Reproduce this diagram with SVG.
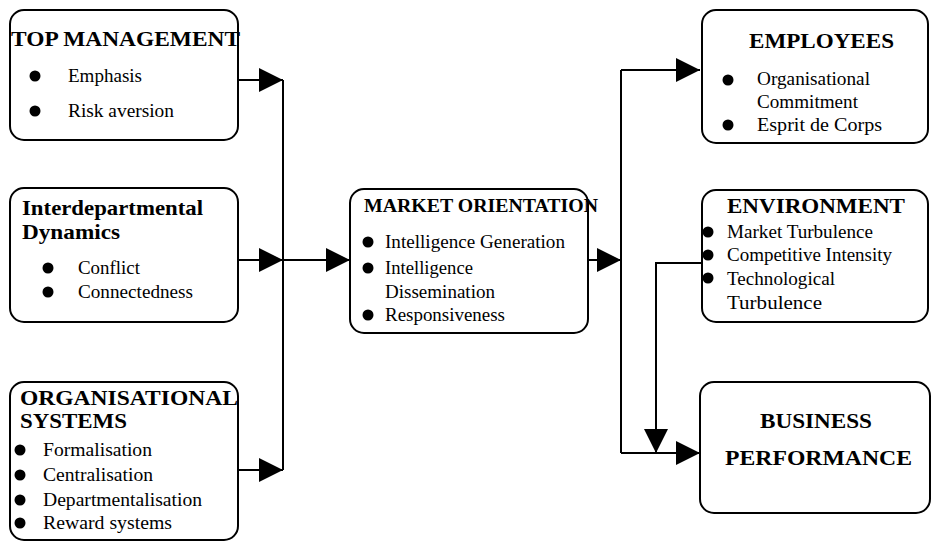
<svg xmlns="http://www.w3.org/2000/svg" width="935" height="548" viewBox="0 0 935 548">
<style>
.box{fill:#fff;stroke:#000;stroke-width:2}
.t{font-family:"Liberation Serif","Times New Roman",serif;font-weight:bold;fill:#000}
.b{font-family:"Liberation Serif","Times New Roman",serif;font-size:18px;fill:#000}
.c{stroke:#000;stroke-width:2;fill:none}
.dot{fill:#000}
</style>
<defs>
<marker id="ah" markerWidth="24" markerHeight="24" refX="24" refY="12" orient="auto" markerUnits="userSpaceOnUse"><path d="M0,0 L24,12 L0,24 Z" fill="#000"/></marker>
</defs>
<rect width="935" height="548" fill="#fff"/>
<g id="connectors">
<path class="c" d="M283,80 V470"/>
<path class="c" d="M238,80 H283" marker-end="url(#ah)"/>
<path class="c" d="M238,260 H283" marker-end="url(#ah)"/>
<path class="c" d="M283,260 H350" marker-end="url(#ah)"/>
<path class="c" d="M238,470 H283" marker-end="url(#ah)"/>
<path class="c" d="M588,260 H621" marker-end="url(#ah)"/>
<path class="c" d="M621,70 V453"/>
<path class="c" d="M621,70 H700" marker-end="url(#ah)"/>
<path class="c" d="M621,453 H700" marker-end="url(#ah)"/>
<path class="c" d="M702,263 H656 V453" marker-end="url(#ah)"/>
</g>
<g id="top-management">
<rect class="box" x="10" y="10" width="228" height="130" rx="14"/>
<text class="t" x="11" y="46" font-size="20" textLength="229" lengthAdjust="spacingAndGlyphs">TOP MANAGEMENT</text>
<circle class="dot" cx="35" cy="76" r="5.5"/><text class="b" x="68" y="82" textLength="74" lengthAdjust="spacingAndGlyphs">Emphasis</text>
<circle class="dot" cx="35" cy="111" r="5.5"/><text class="b" x="68" y="117" textLength="106" lengthAdjust="spacingAndGlyphs">Risk aversion</text>
</g>
<g id="interdepartmental-dynamics">
<rect class="box" x="10" y="188" width="228" height="134" rx="14"/>
<text class="t" x="22" y="215" font-size="22" textLength="181" lengthAdjust="spacingAndGlyphs">Interdepartmental</text>
<text class="t" x="22" y="239" font-size="22" textLength="98" lengthAdjust="spacingAndGlyphs">Dynamics</text>
<circle class="dot" cx="48" cy="268" r="5.5"/><text class="b" x="78" y="274" textLength="62" lengthAdjust="spacingAndGlyphs">Conflict</text>
<circle class="dot" cx="48" cy="292" r="5.5"/><text class="b" x="78" y="298" textLength="115" lengthAdjust="spacingAndGlyphs">Connectedness</text>
</g>
<g id="organisational-systems">
<rect class="box" x="10" y="382" width="228" height="158" rx="14"/>
<text class="t" x="20" y="405" font-size="21" textLength="218" lengthAdjust="spacingAndGlyphs">ORGANISATIONAL</text>
<text class="t" x="20" y="428" font-size="21" textLength="107" lengthAdjust="spacingAndGlyphs">SYSTEMS</text>
<circle class="dot" cx="20" cy="450" r="5.5"/><text class="b" x="43" y="456" textLength="109" lengthAdjust="spacingAndGlyphs">Formalisation</text>
<circle class="dot" cx="20" cy="475" r="5.5"/><text class="b" x="43" y="481" textLength="110" lengthAdjust="spacingAndGlyphs">Centralisation</text>
<circle class="dot" cx="20" cy="500" r="5.5"/><text class="b" x="43" y="506" textLength="159" lengthAdjust="spacingAndGlyphs">Departmentalisation</text>
<circle class="dot" cx="20" cy="523" r="5.5"/><text class="b" x="43" y="529" textLength="129" lengthAdjust="spacingAndGlyphs">Reward systems</text>
</g>
<g id="market-orientation">
<rect class="box" x="350" y="189" width="238" height="144" rx="14"/>
<text class="t" x="364" y="212" font-size="19" textLength="234" lengthAdjust="spacingAndGlyphs">MARKET ORIENTATION</text>
<circle class="dot" cx="368" cy="242" r="5.5"/><text class="b" x="385" y="248" textLength="180" lengthAdjust="spacingAndGlyphs">Intelligence Generation</text>
<circle class="dot" cx="368" cy="268" r="5.5"/><text class="b" x="385" y="274" textLength="88" lengthAdjust="spacingAndGlyphs">Intelligence</text>
<text class="b" x="385" y="298" textLength="110" lengthAdjust="spacingAndGlyphs">Dissemination</text>
<circle class="dot" cx="368" cy="315" r="5.5"/><text class="b" x="385" y="321" textLength="120" lengthAdjust="spacingAndGlyphs">Responsiveness</text>
</g>
<g id="employees">
<rect class="box" x="702" y="10" width="226" height="133" rx="14"/>
<text class="t" x="749" y="48" font-size="22" textLength="145" lengthAdjust="spacingAndGlyphs">EMPLOYEES</text>
<circle class="dot" cx="728" cy="80" r="5.5"/><text class="b" x="757" y="85" textLength="113" lengthAdjust="spacingAndGlyphs">Organisational</text>
<text class="b" x="757" y="108" textLength="101" lengthAdjust="spacingAndGlyphs">Commitment</text>
<circle class="dot" cx="728" cy="125" r="5.5"/><text class="b" x="757" y="131" textLength="125" lengthAdjust="spacingAndGlyphs">Esprit de Corps</text>
</g>
<g id="environment">
<rect class="box" x="702" y="190" width="226" height="132" rx="14"/>
<text class="t" x="727" y="213" font-size="22" textLength="178" lengthAdjust="spacingAndGlyphs">ENVIRONMENT</text>
<circle class="dot" cx="708" cy="232" r="5.5"/><text class="b" x="727" y="238" textLength="146" lengthAdjust="spacingAndGlyphs">Market Turbulence</text>
<circle class="dot" cx="708" cy="255" r="5.5"/><text class="b" x="727" y="261" textLength="165" lengthAdjust="spacingAndGlyphs">Competitive Intensity</text>
<circle class="dot" cx="708" cy="278" r="5.5"/><text class="b" x="727" y="285" textLength="108" lengthAdjust="spacingAndGlyphs">Technological</text>
<text class="b" x="727" y="309" textLength="95" lengthAdjust="spacingAndGlyphs">Turbulence</text>
</g>
<g id="business-performance">
<rect class="box" x="700" y="382" width="230" height="131" rx="14"/>
<text class="t" x="760" y="428" font-size="22" textLength="112" lengthAdjust="spacingAndGlyphs">BUSINESS</text>
<text class="t" x="725" y="465" font-size="22" textLength="187" lengthAdjust="spacingAndGlyphs">PERFORMANCE</text>
</g>
</svg>
